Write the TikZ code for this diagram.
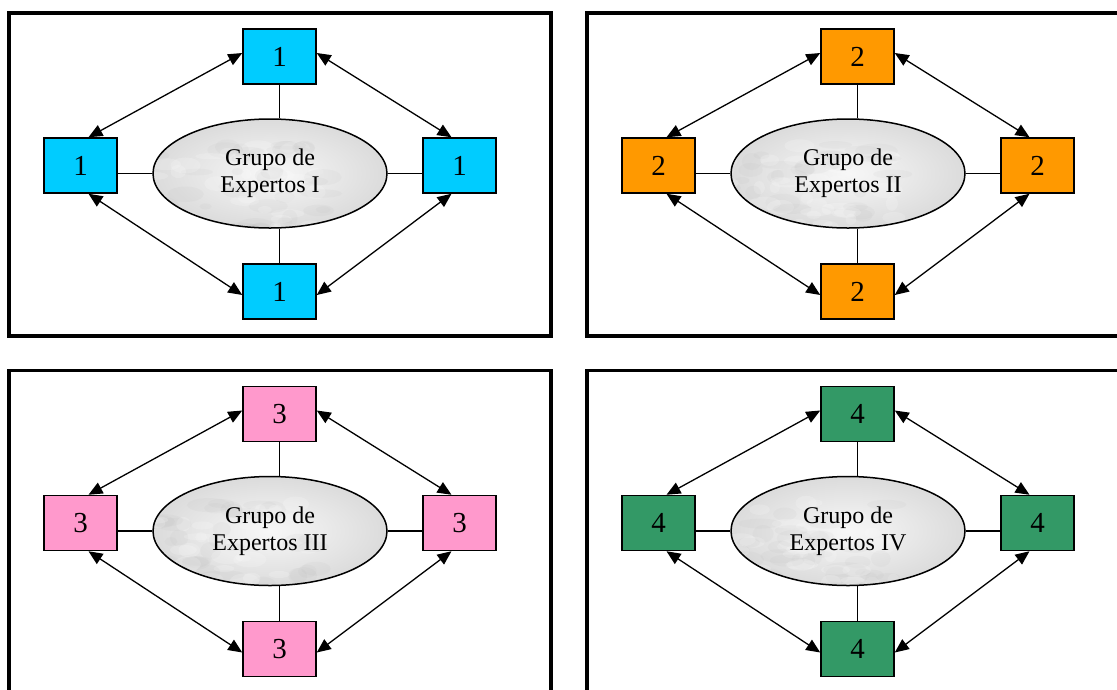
\documentclass[tikz,border=0pt]{standalone}
\usepackage{fontspec}
\setmainfont{Liberation Serif}
\usetikzlibrary{shapes.geometric,arrows.meta}

\definecolor{celeste}{HTML}{00CCFF}
\definecolor{naranja}{HTML}{FF9900}
\definecolor{rosa}{HTML}{FF99CC}
\definecolor{verde}{HTML}{339966}

\begin{document}
\begin{tikzpicture}[x=1pt, y=-1pt,
    marco/.style={draw, line width=3.5pt},
    box/.style={draw, rectangle, line width=1.5pt, minimum width=73pt, minimum height=55pt, inner sep=0pt, text centered, font=\fontsize{29}{34}\selectfont},
    grupo/.style={draw, ellipse, line width=1.5pt, minimum width=234pt, minimum height=109pt, inner sep=0pt, align=center, inner color=gray!6, outer color=gray!28, font=\fontsize{24}{27}\selectfont,
        path picture={
            % marble look
            \foreach \k in {1,...,45} {
                \fill[gray!70, opacity=0.07, shift={(path picture bounding box.center)}]
                    (rand*105, rand*48) circle [x radius=6+rnd*16, y radius=3+rnd*6];
                \fill[white, opacity=0.18, shift={(path picture bounding box.center)}]
                    (rand*105, rand*48) circle [x radius=5+rnd*12, y radius=3+rnd*5];
            }
        }},
    link/.style={line width=1.3pt},
    flecha/.style={line width=1.3pt, >={Triangle[length=14pt,width=12pt]}, <->}]

    \pgfmathsetseed{11}
    \useasboundingbox (0,0) rectangle (1117,689);
    \clip (0,0) rectangle (1117,689);

    % one panel for each group of experts
    \foreach \dx/\dy/\col/\n/\rom in {0/0/celeste/1/I, 578/0/naranja/2/II, 0/357.5/rosa/3/III, 578/357.5/verde/4/IV} {
    \begin{scope}[shift={(\dx,\dy)}]
        \draw[marco] (9,13) rectangle (551,336);

        \node[grupo] (grupo\n) at (270,173.5) {Grupo de\\Expertos \rom};

        \node[box, fill=\col] (top\n) at (279.5,56.5) {\n};
        \node[box, fill=\col] (left\n) at (80.5,165.5) {\n};
        \node[box, fill=\col] (right\n) at (459.5,165.5) {\n};
        \node[box, fill=\col] (bottom\n) at (279.5,291.5) {\n};

        \draw[link] (top\n.south) -- (top\n.south |- grupo\n.north);
        \draw[link] (bottom\n.north) -- (bottom\n.north |- grupo\n.south);
        \draw[link] (left\n.east |- grupo\n.west) -- (grupo\n.west);
        \draw[link] (grupo\n.east) -- (right\n.west |- grupo\n.east);

        \draw[flecha] ([xshift=8pt]left\n.north) -- ([yshift=3.5pt]top\n.west);
        \draw[flecha] ([yshift=3.5pt]top\n.east) -- ([xshift=-8pt]right\n.north);
        \draw[flecha] ([xshift=8pt]left\n.south) -- ([yshift=-3.5pt]bottom\n.west);
        \draw[flecha] ([yshift=-3.5pt]bottom\n.east) -- ([xshift=-8pt]right\n.south);
    \end{scope}
    }
\end{tikzpicture}
\end{document}
